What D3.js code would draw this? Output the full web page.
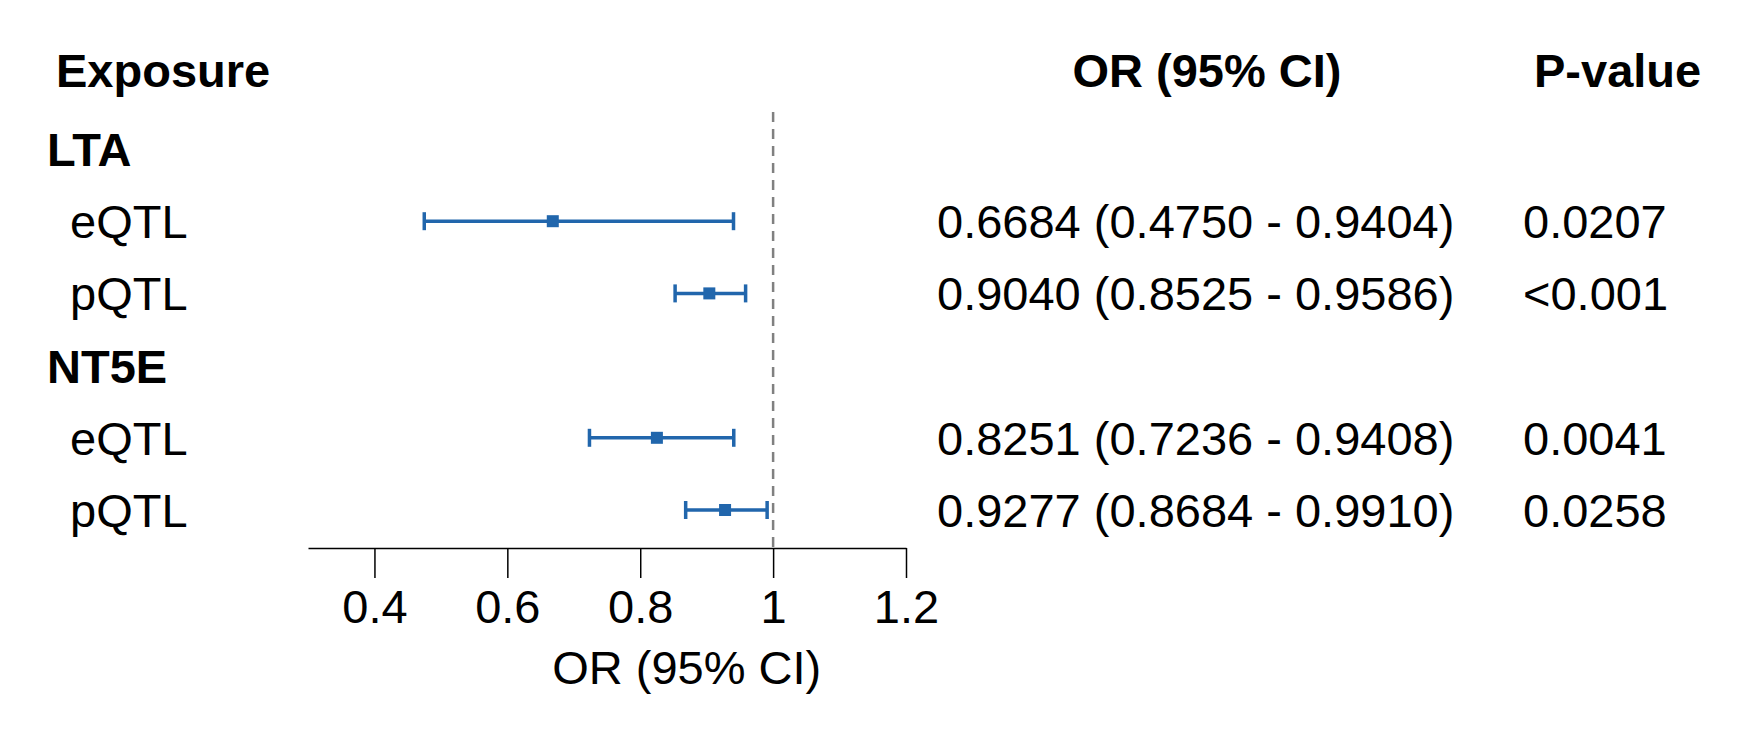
<!DOCTYPE html>
<html><head><meta charset="utf-8">
<script src="https://cdn.jsdelivr.net/npm/d3@7"></script>
<style>body{margin:0;background:#fff}text{font-family:"Liberation Sans",Arial,sans-serif}</style>
</head><body><svg width="1751" height="743"></svg>
<script>
// rows of the forest plot
const labels = ['LTA', 'eQTL', 'pQTL', 'NT5E', 'eQTL', 'pQTL']
const isGroup = [true, false, false, true, false, false]
const est = [null, 0.6684, 0.9040, null, 0.8251, 0.9277]
const lo = [null, 0.4750, 0.8525, null, 0.7236, 0.8684]
const hi = [null, 0.9404, 0.9586, null, 0.9408, 0.9910]
const orText = ['', '0.6684 (0.4750 - 0.9404)', '0.9040 (0.8525 - 0.9586)', '', '0.8251 (0.7236 - 0.9408)', '0.9277 (0.8684 - 0.9910)']
const pText = ['', '0.0207', '<0.001', '', '0.0041', '0.0258']
const ticks = [0.4, 0.6, 0.8, 1, 1.2]

const svg = d3.select('svg')
const x = d3.scaleLinear().domain([0.3, 1.2]).range([308, 906])
const y = d3.scalePoint().domain(d3.range(labels.length)).range([149, 510])
const blue = '#2166ac'
const fs = 47

// headers
svg.append('text').attr('x', 56).attr('y', 87).attr('font-size', fs).attr('font-weight', 'bold').text('Exposure')
svg.append('text').attr('x', 1207).attr('y', 87).attr('font-size', fs).attr('font-weight', 'bold').attr('text-anchor', 'middle').text('OR (95% CI)')
svg.append('text').attr('x', 1534).attr('y', 87).attr('font-size', fs).attr('font-weight', 'bold').text('P-value')

// reference line
svg.append('line').attr('x1', x(1)).attr('x2', x(1)).attr('y1', 112).attr('y2', 548)
  .attr('stroke', '#808080').attr('stroke-width', 2.5).attr('stroke-dasharray', '10,7')

labels.forEach((l, i) => {
  const yy = y(i)
  svg.append('text').attr('x', isGroup[i] ? 47 : 70).attr('y', yy + 17).attr('font-size', fs)
    .attr('font-weight', isGroup[i] ? 'bold' : 'normal').text(l)
  if (est[i] == null) return
  svg.append('text').attr('x', 937).attr('y', yy + 17).attr('font-size', fs).text(orText[i])
  svg.append('text').attr('x', 1523).attr('y', yy + 17).attr('font-size', fs).text(pText[i])
  const g = svg.append('g').attr('stroke', blue).attr('stroke-width', 3.5)
  g.append('line').attr('x1', x(lo[i])).attr('x2', x(hi[i])).attr('y1', yy).attr('y2', yy)
  g.append('line').attr('x1', x(lo[i])).attr('x2', x(lo[i])).attr('y1', yy - 9).attr('y2', yy + 9)
  g.append('line').attr('x1', x(hi[i])).attr('x2', x(hi[i])).attr('y1', yy - 9).attr('y2', yy + 9)
  svg.append('rect').attr('x', x(est[i]) - 6).attr('y', yy - 6).attr('width', 12).attr('height', 12).attr('fill', blue)
})

// axis
const ax = svg.append('g').attr('transform', 'translate(0,548)')
  .call(d3.axisBottom(x).tickValues(ticks).tickFormat(d3.format('')).tickSize(30).tickSizeOuter(0))
ax.select('.domain').attr('stroke', '#000').attr('stroke-width', 1.5)
ax.selectAll('.tick line').attr('stroke', '#000').attr('stroke-width', 1.5)
ax.selectAll('.tick text').attr('font-size', fs).attr('font-family', '"Liberation Sans",Arial,sans-serif').attr('fill', '#000').attr('dy', 0).attr('y', 75)
svg.append('text').attr('x', x(0.87)).attr('y', 684).attr('font-size', fs).attr('text-anchor', 'middle').text('OR (95% CI)')
</script></body></html>
